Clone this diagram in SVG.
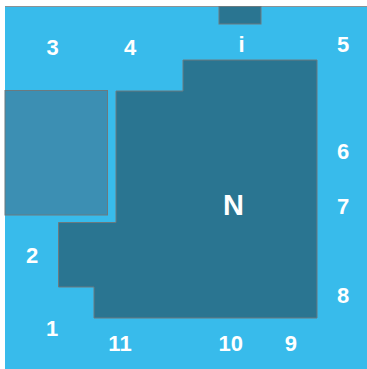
<svg xmlns="http://www.w3.org/2000/svg" width="367" height="369" viewBox="0 0 367 369">
<style>
.bg{fill:#38bbeb}
.room{fill:#2a7591;stroke:#6a7a80;stroke-width:1}
.light{fill:#3c8fb3;stroke:#6a7a80;stroke-width:1}
.lbl{font-family:"Liberation Sans",Arial,sans-serif;font-weight:bold;font-size:22px;fill:#ffffff;text-anchor:middle}
.big{font-size:29px}
</style>
<rect width="367" height="369" fill="#ffffff"/>
<g id="background">
<rect class="bg" x="5" y="6.5" width="362" height="362.5"/>
<line x1="5" y1="6.5" x2="367" y2="6.5" stroke="#8a9296" stroke-width="1"/>
</g>
<g id="node-i-box"><rect class="room" x="219" y="6.5" width="42" height="17.5"/></g>
<g id="node-light"><rect class="light" x="5" y="90.5" width="102.5" height="124.5"/></g>
<g id="node-N">
<polygon class="room" points="116,91 183,91 183,60 317,60 317,318 94,318 94,287 58.5,287 58.5,222.5 116,222.5"/>
<text class="lbl big" x="233.5" y="215">N</text>
</g>
<g id="labels">
<text class="lbl" x="52.5" y="55">3</text>
<text class="lbl" x="130" y="55">4</text>
<text class="lbl" x="241.5" y="52">i</text>
<text class="lbl" x="343" y="52">5</text>
<text class="lbl" x="343" y="159">6</text>
<text class="lbl" x="343" y="214">7</text>
<text class="lbl" x="32" y="263">2</text>
<text class="lbl" x="343" y="303">8</text>
<text class="lbl" x="52" y="336">1</text>
<text class="lbl" x="120" y="351">11</text>
<text class="lbl" x="230.8" y="351">10</text>
<text class="lbl" x="290.8" y="351">9</text>
</g>
<g id="connectors"></g>
</svg>
